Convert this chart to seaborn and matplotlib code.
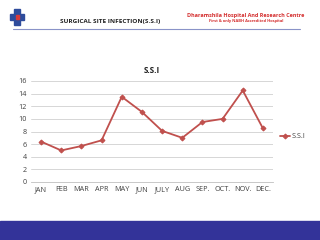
import matplotlib
matplotlib.use("Agg")
import matplotlib.pyplot as plt
import pandas as pd
import seaborn as sns
from matplotlib.patches import Rectangle

months = ["JAN", "FEB", "MAR", "APR", "MAY", "JUN", "JULY", "AUG", "SEP.", "OCT.", "NOV.", "DEC."]
ssi = [6.4, 5.0, 5.7, 6.6, 13.5, 11.1, 8.1, 7.0, 9.5, 10.0, 14.5, 8.5]
y_ticks = [0, 2, 4, 6, 8, 10, 12, 14, 16]

df = pd.DataFrame({"month": months, "S.S.I": ssi})
df["pos"] = range(len(months))

sns.set_style("white")
plt.rcParams["font.family"] = ["Open Sans", "DejaVu Sans"]

W, H = 320, 240
fig = plt.figure(figsize=(3.2, 2.4), dpi=100)


def px(x0, y0, x1, y1):
    # pixel box (top-left origin) -> figure fraction rect
    return [x0 / W, 1 - y1 / H, (x1 - x0) / W, (y1 - y0) / H]


ax = fig.add_axes(px(31, 81, 273, 182))
line_color = "#C0504D"
sns.lineplot(data=df, x="pos", y="S.S.I", ax=ax, color=line_color, linewidth=1.3,
             marker="D", markersize=2.5, markeredgecolor=line_color, label="S.S.I")

ax.set_xlim(-0.5, 11.5)
ax.set_ylim(0, 16)
ax.set_yticks(y_ticks)
ax.set_xticks(df["pos"])
ax.set_xticklabels(months)
ax.tick_params(axis="both", labelsize=5.2, colors="#404040", length=0, pad=3)
ax.grid(axis="y", color="#D0D0D0", linewidth=0.6)
for side in ["top", "right", "left"]:
    ax.spines[side].set_visible(False)
ax.spines["bottom"].set_color("#BFBFBF")
ax.spines["bottom"].set_linewidth(0.6)
ax.set_xlabel("")
ax.set_ylabel("")
ax.set_title("S.S.I", fontsize=5.8, fontweight="bold", color="#222222", pad=6)
ax.legend(loc="center left", bbox_to_anchor=(1.0, 0.45), frameon=False,
          fontsize=5.2, handlelength=1.5, handletextpad=0.2, labelcolor="#404040")

# header
fig.text(60 / W, 1 - 22 / H, "SURGICAL SITE INFECTION(S.S.I)", fontsize=4.6,
         fontweight="bold", color="#222222", va="center", ha="left")
fig.text(246 / W, 1 - 15 / H, "Dharamshila Hospital And Research Centre", fontsize=4.0,
         fontweight="bold", color="#D43030", va="center", ha="center")
fig.text(246 / W, 1 - 21 / H, "First & only NABH Accredited Hospital", fontsize=2.9,
         fontweight="bold", color="#D43030", va="center", ha="center")
fig.add_artist(plt.Line2D([13 / W, 300 / W], [1 - 29 / H, 1 - 29 / H], color="#8A93C8",
                          linewidth=0.8))

# logo: small cross
fig.add_artist(Rectangle((14 / W, 1 - 25 / H), 6 / W, 16 / H, color="#2E4C9C"))
fig.add_artist(Rectangle((10 / W, 1 - 20 / H), 14 / W, 6 / H, color="#2E4C9C"))
fig.add_artist(Rectangle((15.5 / W, 1 - 19 / H), 3 / W, 4 / H, color="#D83A3A"))

# bottom band
fig.add_artist(Rectangle((0, 0), 1, 19 / H, color="#333399"))

fig.savefig("out.png", dpi=100)
